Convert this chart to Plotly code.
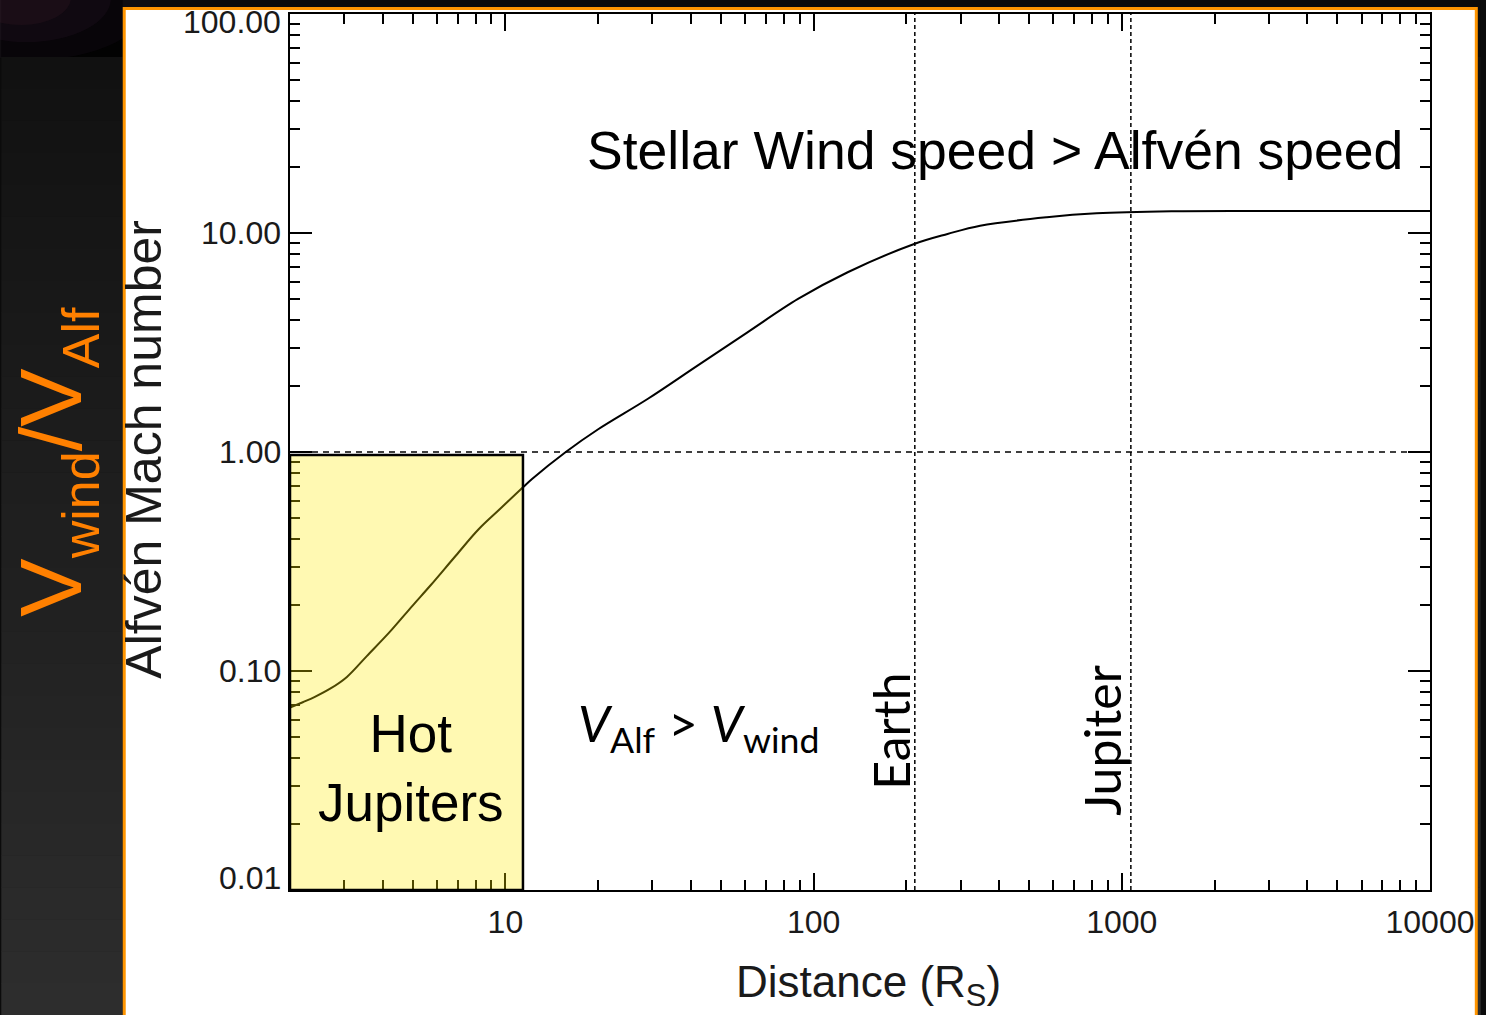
import math
import plotly.graph_objects as go

# ---- data -------------------------------------------------------------
distance_rs = [2.0, 2.2, 2.4, 2.7, 3.06, 3.55, 4.2, 5.0, 5.7, 6.9, 8.2, 9.6,
               11.4, 12.2, 15.7, 20, 29, 42, 61, 89, 129, 212, 272, 347, 571,
               828, 1450, 3000, 10000]
mach_alfven = [0.068, 0.072, 0.076, 0.083, 0.094, 0.117, 0.150, 0.199, 0.245,
               0.336, 0.445, 0.549, 0.690, 0.753, 1.0, 1.27, 1.75, 2.48, 3.52,
               5.0, 6.62, 8.91, 9.9, 10.8, 11.8, 12.3, 12.56, 12.6, 12.6]

earth_rs = 213
jupiter_rs = 1070
alfven_point = 1.0
hot_jupiter_x = [2.0, 11.4]
hot_jupiter_y = [0.01, 0.97]

x_major = [10, 100, 1000, 10000]
x_major_text = ["10", "100", "1000", "10000"]
y_major = [0.01, 0.1, 1, 10, 100]
y_major_text = ["0.01", "0.10", "1.00", "10.00", "100.00"]

# ---- page geometry ----------------------------------------------------
W, H = 1486, 1015
ML, MR, MT, MB = 290, 51, 14, 125
PW, PH = W - ML - MR, H - MT - MB


def fx(p):
    return (p - ML) / PW


def fy(p):
    return (H - MB - p) / PH


FONT = "Liberation Sans, Arial, Helvetica, sans-serif"
SOFT = "Lato, Noto Sans, sans-serif"
INK = "#1a1a1a"

x_minor = [m * 10 ** e for e in range(0, 4) for m in range(2, 10)]
y_minor = [m * 10 ** e for e in range(-2, 2) for m in range(2, 10)]

fig = go.Figure()

# dotted guide lines
fig.add_trace(go.Scatter(x=[2, 10000], y=[alfven_point, alfven_point], mode="lines",
                         line=dict(color="black", width=1.5, dash="6px,5px"),
                         hoverinfo="skip", showlegend=False))
for xv in (earth_rs, jupiter_rs):
    fig.add_trace(go.Scatter(x=[xv, xv], y=[0.01, 100], mode="lines",
                             line=dict(color="black", width=1.5, dash="4px,3px"),
                             hoverinfo="skip", showlegend=False))

# Alfvén Mach number profile
fig.add_trace(go.Scatter(x=distance_rs, y=mach_alfven, mode="lines",
                         line=dict(color="black", width=2, shape="spline", smoothing=1.0),
                         showlegend=False))

shapes = []
# dark slide backdrop
shapes.append(dict(type="rect", xref="paper", yref="paper", layer="below",
                   x0=fx(0), x1=fx(W), y0=fy(H), y1=fy(0),
                   fillcolor="#0b0b0b", line=dict(width=0)))
shapes.append(dict(type="rect", xref="paper", yref="paper", layer="below",
                   x0=fx(0), x1=fx(122), y0=fy(57), y1=fy(0),
                   fillcolor="#020202", line=dict(width=0)))
for x0, x1, y0, y1, c in [(-90, 150, -60, 60, "rgba(60,30,65,0.12)"),
                          (-60, 110, -45, 42, "rgba(70,35,70,0.14)"),
                          (-30, 70, -30, 25, "rgba(90,45,60,0.14)")]:
    shapes.append(dict(type="circle", xref="paper", yref="paper", layer="below",
                       x0=fx(x0), x1=fx(x1), y0=fy(y1), y1=fy(y0),
                       fillcolor=c, line=dict(width=0)))
n_band = 30
for i in range(n_band):
    y0 = 57 + i * (H - 57) / n_band
    y1 = 57 + (i + 1) * (H - 57) / n_band
    g = int(17 + (46 - 17) * (i + 0.5) / n_band)
    col = f"rgb({g},{g},{g})"
    shapes.append(dict(type="rect", xref="paper", yref="paper", layer="below",
                       x0=fx(0), x1=fx(122), y0=fy(y1 + 0.5), y1=fy(y0),
                       fillcolor=col, line=dict(width=0)))
    shapes.append(dict(type="rect", xref="paper", yref="paper", layer="below",
                       x0=fx(1483), x1=fx(W), y0=fy(y1 + 0.5), y1=fy(y0),
                       fillcolor=col, line=dict(width=0)))
# white chart panel with orange frame
shapes.append(dict(type="rect", xref="paper", yref="paper", layer="below",
                   x0=fx(123.5), x1=fx(1481.5), y0=fy(1040), y1=fy(8.5),
                   fillcolor="white", line=dict(color="#FF9500", width=3)))
# hot-Jupiter zone
shapes.append(dict(type="rect", xref="x", yref="y", layer="above",
                   x0=hot_jupiter_x[0], x1=hot_jupiter_x[1],
                   y0=hot_jupiter_y[0], y1=hot_jupiter_y[1],
                   fillcolor="rgba(255,235,0,0.30)",
                   line=dict(color="black", width=2.5)))

ann = []
# y tick labels
for v, t in zip(y_major, y_major_text):
    shift = -8 if v == 100 else (12 if v == 0.01 else 0)
    ann.append(dict(xref="paper", yref="y", x=0, y=math.log10(v), text=t,
                    xanchor="right", yanchor="middle", xshift=-7, yshift=shift,
                    showarrow=False, font=dict(family=FONT, size=32, color=INK)))
# axis titles
ann.append(dict(xref="paper", yref="paper", x=fx(871), y=fy(985), text="Distance (R<sub>S</sub>)",
                xanchor="center", yanchor="middle", showarrow=False,
                font=dict(family=FONT, size=44, color=INK)))
ann.append(dict(xref="paper", yref="paper", x=fx(143), y=fy(449), text="Alfvén Mach number",
                textangle=-90, xanchor="center", yanchor="middle", showarrow=False,
                font=dict(family=FONT, size=50, color=INK)))
# slide side label
ann.append(dict(xref="paper", yref="paper", x=fx(54), y=fy(462),
                text="V<sub><span style='font-size:52px'>wind</span></sub>/V"
                     "<sub><span style='font-size:52px'>Alf</span></sub>",
                textangle=-90, xanchor="center", yanchor="middle", showarrow=False,
                font=dict(family=FONT, size=88, color="#FF8000")))
# region labels
ann.append(dict(xref="paper", yref="paper", x=fx(998), y=fy(150),
                text="Stellar Wind speed > Alfvén speed",
                xanchor="center", yanchor="middle", showarrow=False,
                font=dict(family=FONT, size=53.5, color="black")))
ann.append(dict(xref="paper", yref="paper", x=fx(700), y=fy(726),
                text="<i>V</i><sub>Alf</sub> > <i>V</i><sub>wind</sub>",
                xanchor="center", yanchor="middle", showarrow=False,
                font=dict(family=SOFT, size=51, color="black")))
ann.append(dict(xref="paper", yref="paper", x=fx(412), y=fy(768),
                text="Hot<br>Jupiters", xanchor="center", yanchor="middle",
                showarrow=False, font=dict(family=FONT, size=53, color="black")))
# planet markers
ann.append(dict(xref="x", yref="paper", x=math.log10(earth_rs), y=fy(731), text="Earth",
                textangle=-90, xanchor="center", yanchor="middle", xshift=-24,
                showarrow=False, font=dict(family=SOFT, size=50, color="black")))
ann.append(dict(xref="x", yref="paper", x=math.log10(jupiter_rs), y=fy(740), text="Jupiter",
                textangle=-90, xanchor="center", yanchor="middle", xshift=-29,
                showarrow=False, font=dict(family=SOFT, size=50, color="black")))

axis_common = dict(type="log", showline=True, linecolor="black", linewidth=2,
                   mirror="allticks", ticks="inside", tickcolor="black", tickwidth=1.5,
                   showgrid=False, zeroline=False)

fig.update_layout(
    width=W, height=H,
    margin=dict(l=ML, r=MR, t=MT, b=MB, pad=0),
    paper_bgcolor="#0b0b0b", plot_bgcolor="white",
    showlegend=False,
    shapes=shapes, annotations=ann,
    xaxis=dict(**axis_common, range=[math.log10(2), 4], ticklen=17,
               tickmode="array", tickvals=x_major, ticktext=x_major_text,
               tickfont=dict(family=FONT, size=32, color=INK), ticklabelstandoff=3,
               minor=dict(ticks="inside", ticklen=10, tickwidth=1.5, tickcolor="black",
                          tickmode="array", tickvals=x_minor, showgrid=False)),
    yaxis=dict(**axis_common, range=[-2, 2], ticklen=22,
               tickmode="array", tickvals=y_major, showticklabels=False,
               minor=dict(ticks="inside", ticklen=10, tickwidth=1.5, tickcolor="black",
                          tickmode="array", tickvals=y_minor, showgrid=False)),
)

fig.write_html("out.html")
